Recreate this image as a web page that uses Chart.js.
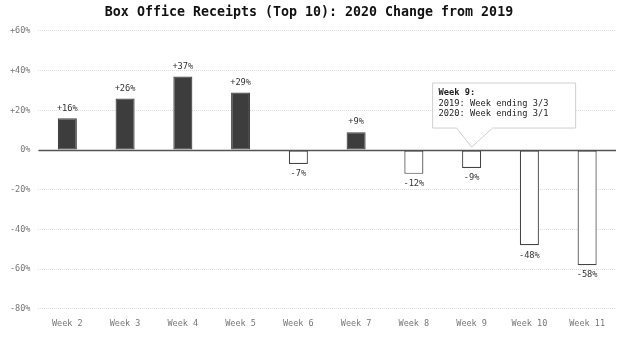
<!DOCTYPE html>
<html>
<head>
<meta charset="utf-8">
<script src="https://cdn.jsdelivr.net/npm/chart.js@4/dist/chart.umd.min.js"></script>
<style>
  html, body { margin: 0; padding: 0; background: #fff; }
  #wrap { width: 624px; height: 337px; position: relative; }
</style>
</head>
<body>
<div id="wrap"><canvas id="chart"></canvas></div>
<script>
// data
const weeks = ['Week 2','Week 3','Week 4','Week 5','Week 6','Week 7','Week 8','Week 9','Week 10','Week 11'];
const changes = [16, 26, 37, 29, -7, 9, -12, -9, -48, -58];
const yTicks = [60, 40, 20, 0, -20, -40, -60, -80];
const noteWeek = 'Week 9';
const noteLines = ['Week 9:', '2019: Week ending 3/3', '2020: Week ending 3/1'];

const mono = "'DejaVu Sans Mono', 'Liberation Mono', monospace";
const dark = '#3d3d3d';
const edge = '#444';

function fmt(v){
  return (v > 0 ? '+' : '') + v + '%';
}

// zero baseline drawn above the grid
const zeroLine = {
  id: 'zeroLine',
  beforeDatasetsDraw(chart){
    const {ctx, chartArea, scales:{y}} = chart;
    const py = Math.round(y.getPixelForValue(0)) + 0.5;
    ctx.save();
    ctx.strokeStyle = '#555';
    ctx.lineWidth = 1.6;
    ctx.beginPath();
    ctx.moveTo(chartArea.left, py);
    ctx.lineTo(chartArea.right, py);
    ctx.stroke();
    ctx.restore();
  }
};

// value labels above / below each bar
const valueLabels = {
  id: 'valueLabels',
  afterDatasetsDraw(chart){
    const {ctx} = chart;
    const meta = chart.getDatasetMeta(0);
    ctx.save();
    ctx.font = '8.7px ' + mono;
    ctx.fillStyle = '#333';
    ctx.textAlign = 'center';
    ctx.textBaseline = 'middle';
    meta.data.forEach((bar, i) => {
      const v = changes[i];
      const yy = v >= 0 ? bar.y - 10 : bar.y + 10;
      ctx.fillText(fmt(v), bar.x, yy);
    });
    ctx.restore();
  }
};

// callout box pointing at week 9
const callout = {
  id: 'callout',
  afterDatasetsDraw(chart){
    const {ctx, scales:{x, y}} = chart;
    const idx = weeks.indexOf(noteWeek);
    const cx = x.getPixelForValue(idx);
    const tipY = y.getPixelForValue(0) - 3;
    const left = cx - 39, right = cx + 104;
    const top = tipY - 64, bottom = tipY - 19;
    ctx.save();
    ctx.beginPath();
    ctx.moveTo(left, top);
    ctx.lineTo(right, top);
    ctx.lineTo(right, bottom);
    ctx.lineTo(cx + 21, bottom);
    ctx.lineTo(cx, tipY);
    ctx.lineTo(cx - 15, bottom);
    ctx.lineTo(left, bottom);
    ctx.closePath();
    ctx.fillStyle = '#fff';
    ctx.fill();
    ctx.strokeStyle = '#cfcfcf';
    ctx.lineWidth = 1;
    ctx.stroke();
    ctx.fillStyle = '#222';
    ctx.textAlign = 'left';
    ctx.textBaseline = 'middle';
    noteLines.forEach((t, i) => {
      ctx.font = (i === 0 ? 'bold ' : '') + '8.7px ' + mono;
      ctx.fillText(t, left + 6, top + 10 + i * 10.5);
    });
    ctx.restore();
  }
};

new Chart(document.getElementById('chart'), {
  type: 'bar',
  data: {
    labels: weeks,
    datasets: [{
      data: changes,
      backgroundColor: changes.map(v => v >= 0 ? dark : '#fff'),
      borderColor: edge,
      borderWidth: 1.2,
      borderSkipped: false,
      barPercentage: 0.33,
      categoryPercentage: 1
    }]
  },
  options: {
    responsive: true,
    maintainAspectRatio: false,
    animation: false,
    layout: { padding: { left: 2, right: 8, top: 0, bottom: 6 } },
    plugins: {
      legend: { display: false },
      tooltip: { enabled: false },
      title: {
        display: true,
        text: 'Box Office Receipts (Top 10): 2020 Change from 2019',
        color: '#111',
        font: { family: mono, size: 13.3, weight: 'bold' },
        padding: { top: 5, bottom: 10 }
      }
    },
    scales: {
      x: {
        grid: { display: false },
        border: { display: false },
        ticks: { color: '#777', font: { family: mono, size: 8.5 }, padding: 2 }
      },
      y: {
        min: Math.min(...yTicks),
        max: Math.max(...yTicks),
        afterBuildTicks(axis){ axis.ticks = yTicks.map(v => ({value: v})); },
        grid: { color: '#dcdcdc', lineWidth: 1, drawTicks: false },
        border: { display: false, dash: [1, 1] },
        ticks: { color: '#777', font: { family: mono, size: 8.5 }, padding: 8, callback: v => fmt(v) }
      }
    }
  },
  plugins: [zeroLine, valueLabels, callout]
});
</script>
</body>
</html>
